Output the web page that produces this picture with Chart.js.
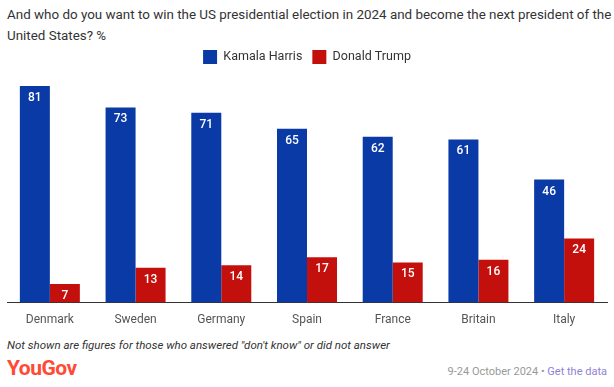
<!DOCTYPE html>
<html>
<head>
<meta charset="utf-8">
<script src="https://cdn.jsdelivr.net/npm/chart.js@4.4.1/dist/chart.umd.min.js"></script>
<style>
  body { margin: 0; background: #fff; font-family: Roboto, "Noto Sans", sans-serif; }
  #wrap { position: relative; width: 614px; height: 387px; overflow: hidden; }
  #title { position: absolute; left: 7px; top: 4px; width: 606px; font-size: 13.4px; line-height: 21px; color: #333; }
  #chartbox { position: absolute; left: 0; top: 40px; width: 614px; height: 292px; }
  #note { position: absolute; left: 7px; top: 338px; font-size: 11.5px; font-style: italic; color: #333; }
  #logo { position: absolute; left: 7px; top: 356px; font-size: 21px; font-weight: bold; color: #ff4b35; letter-spacing: -0.5px; }
  #src { position: absolute; right: 7px; top: 365px; font-size: 11px; color: #999; }
  #src span { color: #8c83d6; }
</style>
</head>
<body>
<div id="wrap">
  <div id="title">And who do you want to win the US presidential election in 2024 and become the next president of the United States? %</div>
  <div id="chartbox"><canvas id="chart" width="614" height="292"></canvas></div>
  <div id="note">Not shown are figures for those who answered "don't know" or did not answer</div>
  <div id="logo">YouGov</div>
  <div id="src">9-24 October 2024 • <span>Get the data</span></div>
</div>
<script>
const countries = ['Denmark', 'Sweden', 'Germany', 'Spain', 'France', 'Britain', 'Italy'];
const harris = [81, 73, 71, 65, 62, 61, 46];
const trump = [7, 13, 14, 17, 15, 16, 24];

const barLabels = {
	id: 'barLabels',
	afterDatasetsDraw(chart) {
		const ctx = chart.ctx;
		ctx.save();
		ctx.font = '500 12px Roboto, sans-serif';
		ctx.fillStyle = '#fff';
		ctx.textAlign = 'center';
		ctx.textBaseline = 'middle';
		chart.data.datasets.forEach((ds, i) => {
			chart.getDatasetMeta(i).data.forEach((bar, j) => {
				ctx.fillText(ds.data[j], bar.x, bar.y + 12);
			});
		});
		ctx.restore();
	}
};

// push the plot down a little below the legend
const legendGap = {
	id: 'legendGap',
	beforeInit(chart) {
		const fit = chart.legend.fit;
		chart.legend.fit = function () {
			fit.bind(chart.legend)();
			this.height += 12;
		};
	}
};

const ctx = document.getElementById('chart').getContext('2d');
new Chart(ctx, {
	type: 'bar',
	data: {
		labels: countries,
		datasets: [
			{ label: 'Kamala Harris', data: harris, backgroundColor: '#0a3aa6' },
			{ label: 'Donald Trump', data: trump, backgroundColor: '#c4100c' }
		]
	},
	options: {
		responsive: false,
		animation: false,
		layout: { padding: { left: 7, right: 7, top: 0, bottom: 3 } },
		datasets: { bar: { categoryPercentage: 0.7, barPercentage: 1.0 } },
		plugins: {
			legend: {
				labels: { boxWidth: 14, boxHeight: 14, color: '#333', font: { size: 12.5, family: 'Roboto' }, padding: 10 }
			},
			tooltip: { enabled: false }
		},
		scales: {
			x: {
				grid: { display: false },
				border: { color: '#333' },
				ticks: { color: '#555', font: { size: 12, family: 'Roboto' }, padding: 2 }
			},
			y: { display: false, min: 0, max: 81 }
		}
	},
	plugins: [barLabels, legendGap]
});
</script>
</body>
</html>
